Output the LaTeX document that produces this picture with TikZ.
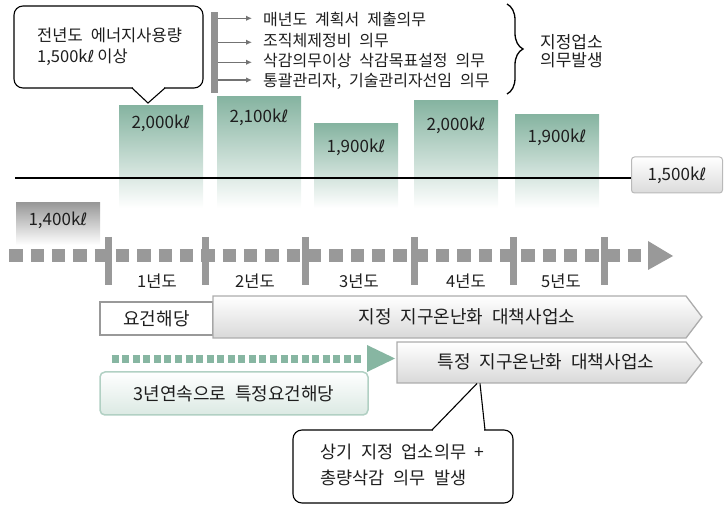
\documentclass[tikz,border=0pt]{standalone}
\usepackage{fontspec}
\setmainfont{Noto Sans CJK KR}[WordSpace=2.2]
\newfontfamily\dejavu{DejaVu Sans}
\newcommand{\liter}{{\dejavu ℓ}}
\usetikzlibrary{arrows.meta,decorations.pathreplacing}
\definecolor{barg}{HTML}{86B4A1}
\definecolor{tgray}{HTML}{999999}
\definecolor{lgreen}{HTML}{87B6A2}
\definecolor{txt}{HTML}{1E1E1E}
\begin{document}
\begin{tikzpicture}[x=1pt,y=-1pt,
  every node/.style={text=txt, inner sep=0pt},
  listtxt/.style={anchor=west, font=\fontsize{16}{18}\selectfont},
  numlab/.style={font=\fontsize{17}{19}\selectfont},
  yearlab/.style={font=\fontsize{16.5}{18}\selectfont},
  boxtxt/.style={font=\fontsize{18}{20}\selectfont},
  calltxt/.style={anchor=west, font=\fontsize{16.5}{18}\selectfont},
  bar/.style={top color=barg, bottom color=white},
  listarrow/.style={draw=gray!90!black, line width=1.4, -{Latex[length=6,width=5.5]}},
  arrowbox/.style={draw=gray!65, line width=1.3, top color=white, bottom color=gray!30},
]
\useasboundingbox (0,0) rectangle (724,505);

% ---- bars
\shade[bar] (119,106) rectangle (203,208);
\shade[bar] (217,97) rectangle (301,208);
\shade[bar] (314,124) rectangle (398,208);
\shade[bar] (414,101) rectangle (498,208);
\shade[bar] (515,115) rectangle (599,208);
\node[numlab] (b1) at (161,123) {2,000k\liter};
\node[numlab] (b2) at (259,117) {2,100k\liter};
\node[numlab] (b3) at (356,147) {1,900k\liter};
\node[numlab] (b4) at (456,125) {2,000k\liter};
\node[numlab] (b5) at (557,137) {1,900k\liter};

% ---- 1,500 box and line
\node[draw=gray!55, line width=1, rounded corners=3, top color=white, bottom color=gray!28,
      minimum width=91, minimum height=36, numlab] (l1500) at (677,175) {1,500k\liter};
\coordinate (lstart) at (15,178);
\draw[line width=1.5] (lstart) -- (l1500.west |- lstart);

% ---- 1,400 box
\shade[top color=tgray, bottom color=white] (16,203) rectangle (100,245);
\node[numlab] (l1400) at (58,220) {1,400k\liter};

% ---- timeline
\coordinate (tl0) at (9.3,256);
\coordinate (tl1) at (642,256);
\draw[tgray, line width=13, dash pattern=on 13.5 off 7.83] (tl0) -- (tl1);
\fill[tgray] (648,241) -- (673,256) -- (648,270) -- cycle;
\foreach \x in {108.5,205,305,414.5,513.5,604.5}
  \draw[tgray, line width=7] (\x,237) -- (\x,285);
\node[yearlab] (y1) at (157,281) {1년도};
\node[yearlab] (y2) at (255,281) {2년도};
\node[yearlab] (y3) at (359,281) {3년도};
\node[yearlab] (y4) at (466,281) {4년도};
\node[yearlab] (y5) at (561,281) {5년도};

% ---- callout 1
\draw[line width=1.1, rounded corners=9, fill=white] (14,6) rectangle (203,88);
\fill[white] (133,86) rectangle (164,90);
\coordinate (c1a) at (132,88);
\coordinate (c1t) at (148,103);
\coordinate (c1b) at (165,88);
\draw[line width=1.1] (c1a) -- (c1t) -- (c1b);
\node[calltxt] (c1l1) at (37,35) {전년도 에너지사용량};
\node[calltxt] (c1l2) at (37,57) {1,500k\liter\hspace{3pt}이상};

% ---- obligations list
\fill[gray!85!black!75] (211,12) rectangle (218,93);
\node[listtxt] (ta) at (263,19) {매년도 계획서 제출의무};
\node[listtxt] (tb) at (263,41) {조직체제정비 의무};
\node[listtxt] (tc) at (263,61) {삭감의무이상 삭감목표설정 의무};
\node[listtxt] (td) at (263,81) {통괄관리자, 기술관리자선임 의무};
\coordinate (sa) at (218,18.3);
\coordinate (sb) at (218,42.3);
\coordinate (sc) at (218,62.3);
\coordinate (sd) at (218,80);
\draw[listarrow] (sa) -- (252,18.3);
\draw[listarrow] (sb) -- (252,42.3);
\draw[listarrow] (sc) -- (252,62.3);
\draw[listarrow] (sd) -- (252,80);

% ---- brace
\coordinate (br0) at (507,4);
\coordinate (br1) at (507,94);
\draw[line width=1.3, decorate, decoration={brace, amplitude=16pt, aspect=0.5}] (br0) -- (br1);
\node[calltxt, font=\fontsize{17}{18}\selectfont] (obl1) at (540,42) {지정업소};
\node[calltxt, font=\fontsize{17}{18}\selectfont] (obl2) at (540,60) {의무발생};

% ---- designation bars
\node[draw=tgray, line width=1.5, fill=white, minimum width=113, minimum height=33, boxtxt] (yg) at (156.5,318.5) {요건해당};
\path[arrowbox] (213,296) -- (686,296) -- (702,317) -- (686,338) -- (213,338) -- cycle;
\node[boxtxt] (jj) at (467,317) {지정 지구온난화 대책사업소};
\path[arrowbox] (397,342) -- (686,342) -- (702,362.5) -- (686,383) -- (397,383) -- cycle;
\node[boxtxt] (tj) at (546,362) {특정 지구온난화 대책사업소};

% ---- green dotted arrow
\coordinate (g0) at (111.7,359);
\coordinate (g1) at (364,359);
\draw[lgreen, line width=8, dash pattern=on 7 off 3.55] (g0) -- (g1);
\fill[lgreen] (367,345) -- (395,358.5) -- (367,372) -- cycle;
\node[draw=lgreen!65, line width=1.5, rounded corners=5, top color=white, bottom color=lgreen!30,
      minimum width=268, minimum height=43, boxtxt] (sg) at (234,393.5) {3년연속으로 특정요건해당};

% ---- callout 2
\draw[line width=1.1, rounded corners=9, fill=white] (293,430) rectangle (513,503);
\fill[white] (433,428) rectangle (484,432);
\coordinate (c2a) at (432,430);
\coordinate (c2t1) at (477,383.5);
\coordinate (c2t2) at (480,383.5);
\coordinate (c2b) at (485,430);
\draw[line width=1.1] (c2a) -- (c2t1);
\draw[line width=1.1] (c2t2) -- (c2b);
\node[calltxt, font=\fontsize{17.5}{18}\selectfont] (c2l1) at (320,452) {상기 지정 업소의무 +};
\node[calltxt, font=\fontsize{17.5}{18}\selectfont] (c2l2) at (320,478) {총량삭감 의무 발생};
\end{tikzpicture}
\end{document}
